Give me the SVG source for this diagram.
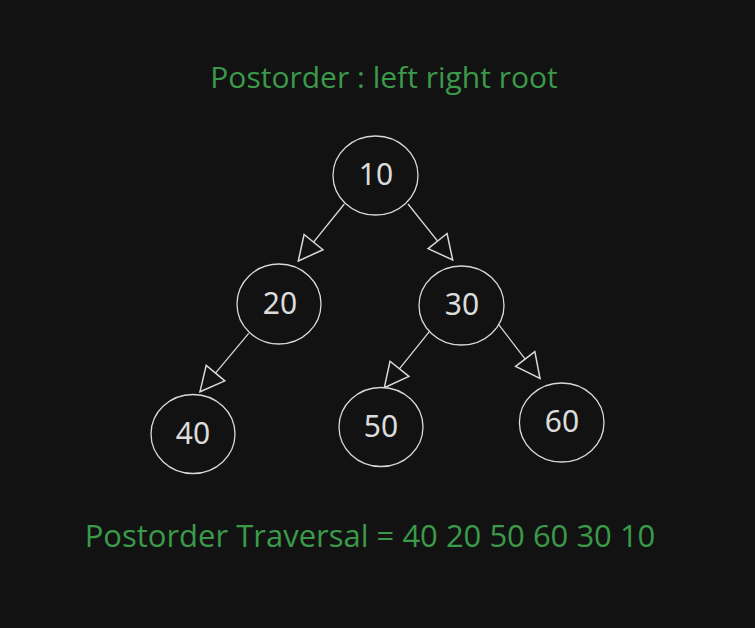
<svg xmlns="http://www.w3.org/2000/svg" width="755" height="628" viewBox="0 0 755 628">
<style>
.node ellipse{fill:#121212;stroke:#d9d9d9;stroke-width:1.3}
.node text{font-family:"Noto Sans","Open Sans",sans-serif;font-size:30px;fill:#dcdcdc;text-anchor:middle;dominant-baseline:central}
.edges line{stroke:#d9d9d9;stroke-width:1.3}
.label{font-family:"Open Sans","Noto Sans",sans-serif;fill:#3a9a4a;text-anchor:middle}
</style>
<defs>
<marker id="arr" markerUnits="userSpaceOnUse" markerWidth="30" markerHeight="30" viewBox="-24 -12 26 24" refX="0" refY="0" orient="auto">
<path d="M0,0 L-21,-10.5 L-21,10.5 Z" fill="#121212" stroke="#d9d9d9" stroke-width="1.3" stroke-linejoin="miter"/>
</marker>
</defs>
<rect width="755" height="628" fill="#121212"/>
<text class="label" x="384" y="88" font-size="30">Postorder : left right root</text>
<g class="edges">
<line x1="344.3" y1="204" x2="298.3" y2="261" marker-end="url(#arr)"/>
<line x1="408" y1="204" x2="452.7" y2="260" marker-end="url(#arr)"/>
<line x1="248.7" y1="333.3" x2="200" y2="391.7" marker-end="url(#arr)"/>
<line x1="429.3" y1="331.7" x2="384.3" y2="387.7" marker-end="url(#arr)"/>
<line x1="497.7" y1="323.3" x2="540" y2="378.3" marker-end="url(#arr)"/>
</g>
<g id="n10" class="node"><ellipse cx="375.5" cy="175.5" rx="42.5" ry="39.5"/><text x="376" y="173">10</text></g>
<g id="n20" class="node"><ellipse cx="279" cy="304" rx="42" ry="40"/><text x="280" y="302">20</text></g>
<g id="n30" class="node"><ellipse cx="461.5" cy="305.5" rx="42.5" ry="39.5"/><text x="462" y="303">30</text></g>
<g id="n40" class="node"><ellipse cx="193" cy="434" rx="42" ry="39.5"/><text x="193" y="432">40</text></g>
<g id="n50" class="node"><ellipse cx="381" cy="427" rx="42" ry="39.5"/><text x="381" y="425">50</text></g>
<g id="n60" class="node"><ellipse cx="561.7" cy="422.5" rx="42.3" ry="39.5"/><text x="562" y="420">60</text></g>
<text class="label" x="370" y="547" font-size="31">Postorder Traversal = 40 20 50 60 30 10</text>
</svg>
